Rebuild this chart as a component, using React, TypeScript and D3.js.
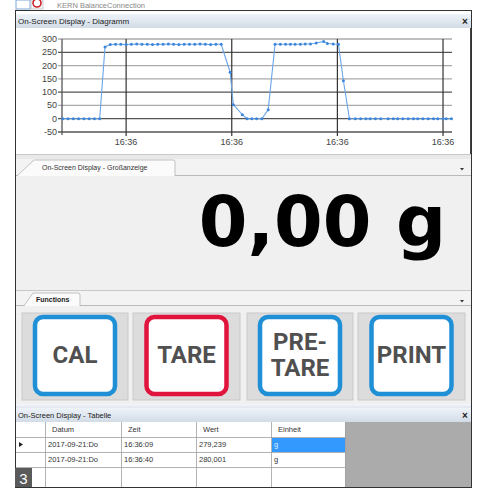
import React from "react";
import * as d3 from "d3";

// ---- chart data (time in seconds after 16:36:00, weight in g) ----
const times = [
  4.0, 4.5, 5.0, 5.5, 6.0, 6.5, 7.0, 7.5,
  8.0,
  8.5, 9.0, 9.5, 10.0, 10.5, 11.0, 11.5, 12.0, 12.5, 13.0, 13.5, 14.0, 14.5, 15.0, 15.5, 16.0, 16.5, 17.0, 17.5, 18.0, 18.5, 19.0,
  19.85, 20.15, 21.0, 21.45, 21.9, 22.35, 22.85, 23.45,
  24.1, 24.6, 25.1, 25.55, 26.0, 26.5, 26.95, 27.45, 28.0, 28.7, 29.05, 29.6, 30.1,
  30.57,
  31.14, 31.7, 32.2, 32.7, 33.1, 33.6, 34.1, 34.8, 35.3, 35.7, 36.2, 36.7, 37.2, 37.6, 38.1, 38.6, 39.1, 39.5, 40.0, 40.3, 40.8,
];
const weights = [
  0, 0, 0, 0, 0, 0, 0, 0,
  270,
  279, 280, 280, 279, 280, 281, 280, 280, 279, 280, 280, 281, 280, 279, 280, 280, 280, 281, 280, 279, 280, 280,
  175, 53, 15, 0, 0, 0, 0, 34,
  280, 280, 280, 280, 280, 280, 281, 281, 285, 291, 283, 281, 280,
  143,
  0, 0, 0, 0, 0, 0, 0, 0, 0, 0, 0, 0, 0, 0, 0, 0, 0, 0, 0, 0, 0,
];
const yTicks = [300, 250, 200, 150, 100, 50, 0, -50];
const yMajor = [250, 100, 0, -50];
const xTicks = [10, 20, 30, 40];
const xTickLabels = ["16:36", "16:36", "16:36", "16:36"];

// ---- UI texts ----
const bigValue = "0,00 g";
const buttons = [
  { lines: ["CAL"], color: "#1f8fd6" },
  { lines: ["TARE"], color: "#e0143c" },
  { lines: ["PRE-", "TARE"], color: "#1f8fd6" },
  { lines: ["PRINT"], color: "#1f8fd6" },
];
const tableHeaders = ["Datum", "Zeit", "Wert", "Einheit"];
const tableRows = [
  ["2017-09-21:Do", "16:36:09", "279,239", "g"],
  ["2017-09-21:Do", "16:36:40", "280,001", "g"],
];

const UI = "'Liberation Sans', Arial, sans-serif";

export default function App() {
  const x = d3.scaleLinear().domain([3.93, 40.85]).range([62, 452]);
  const y = d3.scaleLinear().domain([-50, 300]).range([132, 39]);
  const pts = times.map((t, i) => [x(t), y(weights[i])] as [number, number]);
  const line = d3.line()(pts) || "";

  const colX = [15, 45, 121, 196, 271, 345];
  const rowY = [422, 437, 452, 467, 487];

  const cellX = [
    [22, 128],
    [133, 240],
    [247, 353],
    [358, 465],
  ];

  return (
    <div style={{ position: "fixed", left: 0, top: 0 }}>
      <svg width={480} height={489} style={{ display: "block", background: "#fff" }}>
        <defs>
          <linearGradient id="hdr" x1="0" y1="0" x2="0" y2="1">
            <stop offset="0" stopColor="#eef3f8" />
            <stop offset="1" stopColor="#d2dce7" />
          </linearGradient>
          <linearGradient id="sep" x1="0" y1="0" x2="0" y2="1">
            <stop offset="0" stopColor="#f4f7fa" />
            <stop offset="1" stopColor="#dfe6ee" />
          </linearGradient>
        </defs>

        {/* top window strip */}
        <rect x={16} y={0} width={14} height={9} fill="#fff" stroke="#7aa7d8" strokeWidth={1} />
        <rect x={31} y={0} width={12} height={9} fill="#f4f4f4" stroke="#c0c0c0" strokeWidth={0.8} />
        <circle cx={37} cy={3} r={4} fill="#fff" stroke="#d0202a" strokeWidth={1.6} />
        <text x={57} y={8} fontSize={7.5} fontFamily={UI} fill="#888">KERN BalanceConnection</text>

        {/* outer frame */}
        <rect x={15.5} y={10.5} width={456} height={477} fill="none" stroke="#333" strokeWidth={1} />

        {/* Diagram header */}
        <rect x={16} y={14} width={455} height={14} fill="url(#hdr)" />
        <text x={18} y={24} fontSize={8} fontFamily={UI} fill="#222">On-Screen Display - Diagramm</text>
        <text x={465} y={25} fontSize={10} fontFamily={UI} fontWeight="bold" fill="#222" textAnchor="middle">×</text>

        {/* chart panel */}
        <rect x={16} y={28} width={454} height={126} fill="#fff" />
        <line x1={470.5} y1={28} x2={470.5} y2={154} stroke="#444" />
        {yTicks.map((v) => (
          <g key={v}>
            <line
              x1={58}
              x2={452}
              y1={y(v)}
              y2={y(v)}
              stroke={yMajor.includes(v) ? "#555" : "#aaa"}
              strokeWidth={1.3}
            />
            <text x={57} y={y(v) + 3} fontSize={9} fontFamily={UI} fill="#444" textAnchor="end">
              {v}
            </text>
          </g>
        ))}
        <line x1={62} x2={62} y1={y(300)} y2={y(-50) + 3} stroke="#555" strokeWidth={1.3} />
        {xTicks.map((t, i) => (
          <g key={t}>
            <line x1={x(t)} x2={x(t)} y1={y(300)} y2={y(-50) + 4} stroke="#333" strokeWidth={1.2} />
            <text x={x(t)} y={y(-50) + 13} fontSize={9} fontFamily={UI} fill="#444" textAnchor="middle">
              {xTickLabels[i]}
            </text>
          </g>
        ))}
        <path d={line} fill="none" stroke="#6aa6ea" strokeWidth={1.1} />
        {pts.map((p, i) => (
          <circle key={i} cx={p[0]} cy={p[1]} r={1.5} fill="#3d86dc" />
        ))}

        {/* separator and tab strip */}
        <rect x={16} y={154} width={455} height={5} fill="#e9e9e9" />
        <line x1={16} x2={471} y1={154.5} y2={154.5} stroke="#c8c8c8" />
        <rect x={16} y={159} width={455} height={17} fill="#f3f3f3" />
        <line x1={16} x2={471} y1={175.5} y2={175.5} stroke="#b9b9b9" />
        <path d="M17,176 L34,160 L173,160 Q175,160 175,162 L175,176" fill="#fbfbfb" stroke="#b4b4b4" strokeWidth={0.8} />
        <text x={42} y={170} fontSize={7} fontFamily={UI} fill="#333">On-Screen Display - Großanzeige</text>
        <path d="M460,168 L464,168 L462,170.5 Z" fill="#333" />

        {/* big display */}
        <rect x={16} y={176} width={455} height={114} fill="#f0f0f0" />
        <text
          x={446}
          y={246}
          fontSize={70}
          fontFamily="'DejaVu Sans', Verdana, sans-serif"
          fontWeight="bold"
          fill="#000"
          textAnchor="end"
        >
          {bigValue}
        </text>

        {/* Functions tab */}
        <rect x={16} y={290} width={455} height={16} fill="#f3f3f3" />
        <line x1={16} x2={471} y1={290.5} y2={290.5} stroke="#c8c8c8" />
        <line x1={16} x2={471} y1={305.5} y2={305.5} stroke="#b9b9b9" />
        <path d="M24,306 L33,293 L78,293 Q80,293 80,295 L80,306" fill="#fbfbfb" stroke="#b4b4b4" strokeWidth={0.8} />
        <text x={36} y={302} fontSize={7} fontFamily={UI} fontWeight="bold" fill="#222">Functions</text>
        <path d="M460,300 L464,300 L462,302.5 Z" fill="#333" />

        {/* buttons */}
        <rect x={16} y={306} width={455} height={98} fill="#f0f0f0" />
        {buttons.map((b, i) => {
          const [x0, x1] = cellX[i];
          const cx = (x0 + x1) / 2;
          const w = 80;
          const h = 77;
          const by = 317;
          return (
            <g key={i}>
              <rect x={x0} y={313} width={x1 - x0} height={87} fill="#dcdcdc" stroke="#c9c9c9" strokeWidth={1} />
              <rect
                x={cx - w / 2}
                y={by}
                width={w}
                height={h}
                rx={8}
                fill="#fff"
                stroke={b.color}
                strokeWidth={4.5}
              />
              {b.lines.map((ln, j) => (
                <text
                  key={j}
                  x={cx}
                  y={b.lines.length === 1 ? 363 : 350 + j * 26}
                  fontSize={24}
                  fontFamily="'Liberation Sans Narrow', 'Roboto', sans-serif"
                  fontWeight="bold"
                  fill="#505050"
                  textAnchor="middle"
                >
                  {ln}
                </text>
              ))}
            </g>
          );
        })}

        {/* Table header */}
        <rect x={16} y={404} width={455} height={4} fill="url(#sep)" />
        <rect x={16} y={408} width={455} height={14} fill="url(#hdr)" />
        <text x={18} y={418} fontSize={7.5} fontFamily={UI} fill="#222">On-Screen Display - Tabelle</text>
        <text x={465} y={419} fontSize={10} fontFamily={UI} fontWeight="bold" fill="#222" textAnchor="middle">×</text>

        {/* table */}
        <rect x={colX[5]} y={422} width={471 - colX[5]} height={65} fill="#ababab" />
        <rect x={16} y={422} width={colX[5] - 16} height={65} fill="#fff" />
        {rowY.slice(1, 4).map((ry) => (
          <line key={ry} x1={16} x2={colX[5]} y1={ry + 0.5} y2={ry + 0.5} stroke="#a0a0a0" strokeWidth={0.8} />
        ))}
        {colX.slice(1).map((cxv) => (
          <line key={cxv} x1={cxv + 0.5} x2={cxv + 0.5} y1={422} y2={487} stroke="#a0a0a0" strokeWidth={0.8} />
        ))}
        {/* selected cell */}
        <rect x={colX[4] + 1} y={rowY[1] + 1} width={colX[5] - colX[4] - 1} height={rowY[2] - rowY[1] - 1} fill="#3399ff" />
        {tableHeaders.map((h, i) => (
          <text key={h} x={colX[i + 1] + 7} y={432} fontSize={7.5} fontFamily={UI} fill="#333">
            {h}
          </text>
        ))}
        {tableRows.map((row, r) =>
          row.map((c, i) => (
            <text
              key={r + "-" + i}
              x={colX[i + 1] + 3}
              y={rowY[r + 1] + 10}
              fontSize={7.5}
              fontFamily={UI}
              fill={r === 0 && i === 3 ? "#dfeeff" : "#333"}
            >
              {c}
            </text>
          ))
        )}
        <path d="M19,442 L23,444.5 L19,447 Z" fill="#222" />

        {/* figure number badge */}
        <rect x={15} y={468} width={17} height={19} fill="#5a5a5a" />
        <text x={23.5} y={484} fontSize={15} fontFamily={UI} fill="#fff" textAnchor="middle">3</text>
      </svg>
    </div>
  );
}
